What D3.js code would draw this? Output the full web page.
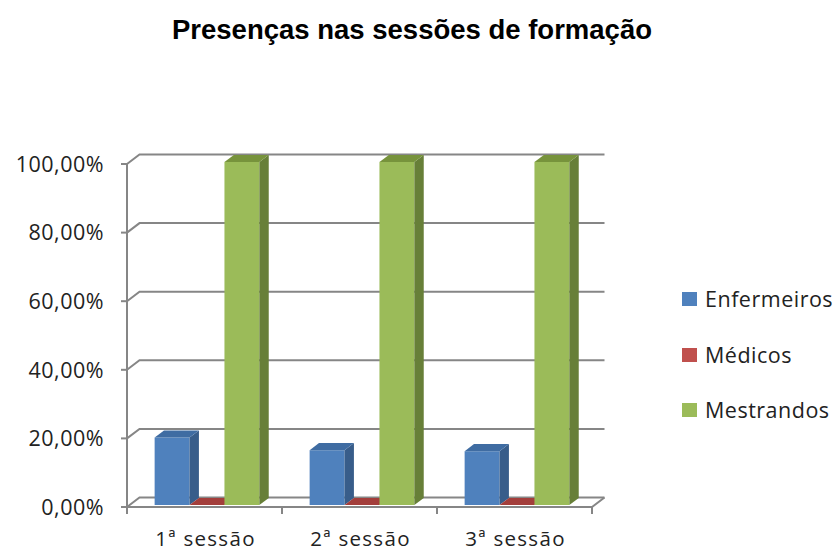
<!DOCTYPE html>
<html><head><meta charset="utf-8">
<script src="https://cdn.jsdelivr.net/npm/d3@7"></script>
<style>body{margin:0;background:#fff}svg{display:block}</style>
</head><body>
<svg id="c" width="835" height="552"></svg>
<script>
const title = "Presenças nas sessões de formação";
const categories = ["1ª sessão", "2ª sessão", "3ª sessão"];
const series = ["Enfermeiros", "Médicos", "Mestrandos"];
const enfermeiros = [0.197, 0.16, 0.157];
const medicos = [0, 0, 0];
const mestrandos = [1, 1, 1];
const yTicks = [0, 0.2, 0.4, 0.6, 0.8, 1];
const values = [enfermeiros, medicos, mestrandos];

const colors = {
  Enfermeiros: {front: "#4F81BD", side: "#385D8A", top: "#3F6CA2"},
  "Médicos":   {front: "#C0504D", side: "#8C3A38", top: "#A33E3B"},
  Mestrandos:  {front: "#9BBB59", side: "#677F38", top: "#77933C"}
};

const svg = d3.select("#c");
const font = "'Open Sans', 'Noto Sans', sans-serif";
const fs = 21.5;
const ls = 0.5;
const fmt = d3.formatLocale({decimal: ",", thousands: ".", grouping: [3], currency: ["", "€"]}).format(".2%");

// 3D oblique projection
const DX = 12.5, DY = 9.5;
const x0 = d3.scaleBand().domain(categories).range([127, 592]).paddingInner(0).paddingOuter(0);
const x1 = d3.scaleBand().domain(series).range([0, x0.bandwidth()]).paddingInner(0).paddingOuter(0.72);
const y = d3.scaleLinear().domain([0, 1]).range([507, 164]);
const P = (x, v, t) => [x + t * DX, y(v) - t * DY];

const grid = "#868686";
const g = svg.append("g");

yTicks.forEach(v => {
  const a = P(127, v, 0), b = P(127, v, 1), c = P(592, v, 1);
  g.append("path").attr("d", `M${a}L${b}L${c}`).attr("fill", "none").attr("stroke", grid).attr("stroke-width", 2);
  g.append("line").attr("x1", 121).attr("x2", 127).attr("y1", y(v)).attr("y2", y(v)).attr("stroke", grid).attr("stroke-width", 2);
  g.append("text").attr("x", 104).attr("y", y(v)).attr("dy", "0.36em").attr("text-anchor", "end")
    .attr("font-family", font).attr("font-size", fs).attr("letter-spacing", ls).attr("fill", "#222").text(fmt(v));
});
{
  const a = P(127, 0, 0), b = P(592, 0, 0), c = P(592, 0, 1);
  g.append("path").attr("d", `M${a}L${b}L${c}`).attr("fill", "none").attr("stroke", grid).attr("stroke-width", 2);
}
g.append("line").attr("x1", 127).attr("x2", 127).attr("y1", y(0)).attr("y2", y(1)).attr("stroke", grid).attr("stroke-width", 2);
const catEdges = categories.map(c => x0(c)).concat([x0(categories[categories.length - 1]) + x0.bandwidth()]);
catEdges.forEach(xe => {
  g.append("line").attr("x1", xe).attr("x2", xe).attr("y1", y(0)).attr("y2", y(0) + 7).attr("stroke", grid).attr("stroke-width", 2);
});
categories.forEach(c => {
  g.append("text").attr("x", x0(c) + x0.bandwidth() / 2 + 1).attr("y", 545.5).attr("text-anchor", "middle")
    .attr("font-family", font).attr("font-size", 20.5).attr("letter-spacing", 1.3).attr("fill", "#222").text(c);
});

const T0 = 0.2, T1 = 0.95;
const bars = svg.append("g");
categories.forEach((c, ci) => {
  series.forEach((s, si) => {
    const v = values[si][ci];
    const xl = x0(c) + x1(s), xr = xl + x1.bandwidth();
    const col = colors[s];
    const pt = (x, vv, t) => P(x, vv, t).join(",");
    bars.append("path").attr("d", `M${pt(xl,0,T0)}L${pt(xr,0,T0)}L${pt(xr,v,T0)}L${pt(xl,v,T0)}Z`).attr("fill", col.front);
    bars.append("path").attr("d", `M${pt(xr,0,T0)}L${pt(xr,0,T1)}L${pt(xr,v,T1)}L${pt(xr,v,T0)}Z`).attr("fill", col.side);
    bars.append("path").attr("d", `M${pt(xl,v,T0)}L${pt(xr,v,T0)}L${pt(xr,v,T1)}L${pt(xl,v,T1)}Z`).attr("fill", col.top);
  });
});

svg.append("text").attr("x", 412).attr("y", 39).attr("text-anchor", "middle")
  .attr("font-family", "'Liberation Sans', Arial, sans-serif").attr("font-weight", "bold").attr("font-size", 27.5)
  .attr("fill", "#000").text(title);

const legY = [299, 355, 410];
series.forEach((s, i) => {
  svg.append("rect").attr("x", 682).attr("y", legY[i] - 7).attr("width", 15).attr("height", 14).attr("fill", colors[s].front);
  svg.append("text").attr("x", 705).attr("y", legY[i]).attr("dy", "0.36em")
    .attr("font-family", font).attr("font-size", fs).attr("letter-spacing", ls).attr("fill", "#222").text(s);
});
</script>
</body></html>
